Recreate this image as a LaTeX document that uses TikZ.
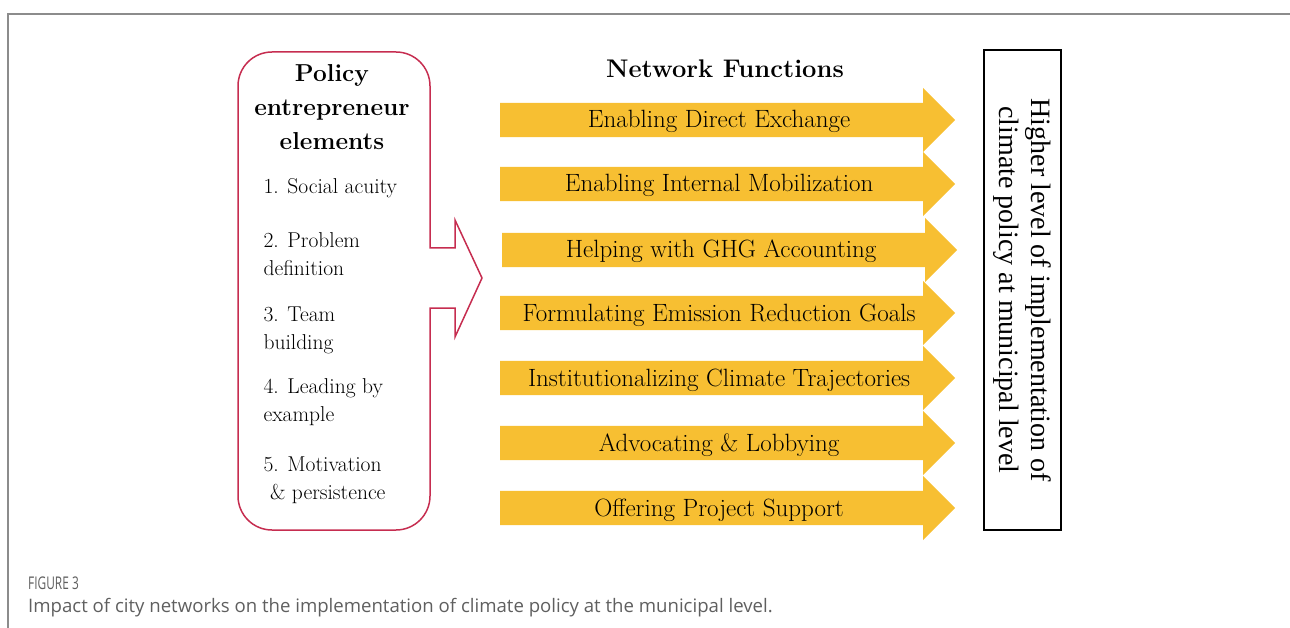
\documentclass[tikz,border=0pt]{standalone}
\usepackage{fontspec}
\usetikzlibrary{shapes.arrows,positioning}
\newfontfamily\timesfont{Liberation Serif}
\newfontfamily\captionfont{Open Sans}
\definecolor{policyred}{RGB}{198,45,80}
\definecolor{functionyellow}{RGB}{247,191,50}
\definecolor{framegray}{RGB}{140,140,140}
\definecolor{captiongray}{RGB}{95,95,95}

\tikzset{
  funcarrow/.style={single arrow, fill=functionyellow, draw=none, anchor=tail,
    minimum height=455pt, minimum width=64pt, single arrow head extend=15pt,
    single arrow tip angle=90, inner sep=0pt, text height=25pt, text depth=9pt,
    font=\fontsize{25}{28}\selectfont},
  itemtext/.style={anchor=west, align=left, font=\fontsize{21.5}{28}\selectfont},
}

\begin{document}
\begin{tikzpicture}[x=1pt, y=-1pt]
    \useasboundingbox (0,0) rectangle (1290,628);

    % Page frame
    \draw[framegray, line width=2pt] (8,628) -- (8,14) -- (1290,14);

    % Policy entrepreneur box with notch arrow
    \draw[policyred, line width=1.5pt] (430,248) [rounded corners=34pt] -- (430,52) -- (238,52)
        -- (238,530) -- (430,530) [sharp corners] -- (430,308) -- (455,308) -- (455,337)
        -- (482,278) -- (455,220) -- (455,248) -- cycle;
    \node[align=center, font=\fontsize{24.5}{34}\selectfont\bfseries] (pehead) at (332,107)
        {Policy\\entrepreneur\\elements};
    \node[itemtext] (el1) at (260,188) {1. Social acuity};
    \node[itemtext] (el2) at (260,254) {2. Problem\\definition};
    \node[itemtext] (el3) at (260,330) {3. Team\\building};
    \node[itemtext] (el4) at (260,402) {4. Leading by\\example};
    \node[itemtext] (el5) at (260,480) {5. Motivation\\\ \& persistence};

    % Network functions
    \node[font=\fontsize{25.5}{28}\selectfont\bfseries] (nfhead) at (725,69) {Network Functions};
    \node[funcarrow] (f1) at (500,120) {Enabling Direct Exchange};
    \node[funcarrow] (f2) at (500,184) {Enabling Internal Mobilization};
    \node[funcarrow] (f3) at (502,250) {Helping with GHG Accounting};
    \node[funcarrow] (f4) at (500,313) {Formulating Emission Reduction Goals};
    \node[funcarrow] (f5) at (500,378) {Institutionalizing Climate Trajectories};
    \node[funcarrow] (f6) at (500,443) {Advocating \& Lobbying};
    \node[funcarrow] (f7) at (500,508) {Offering Project Support};

    % Outcome
    \node[draw, line width=1.2pt, rotate=-90, minimum width=480pt, minimum height=77pt,
        inner sep=0pt, align=center, font=\timesfont\fontsize{28}{32}\selectfont] (outcome)
        at (1022.5,290) {Higher level of implementation of\\climate policy at municipal level};

    % Caption
    \node[anchor=base west, inner sep=0pt, text=captiongray, font=\captionfont\fontsize{17.5}{20}\selectfont]
        (figlabel) at (28,589) {\scalebox{0.68}[1]{FIGURE 3}};
    \node[anchor=base west, inner sep=0pt, text=captiongray, font=\captionfont\fontsize{18.6}{22}\selectfont]
        (figcaption) at (28,612) {Impact of city networks on the implementation of climate policy at the municipal level.};
\end{tikzpicture}
\end{document}
